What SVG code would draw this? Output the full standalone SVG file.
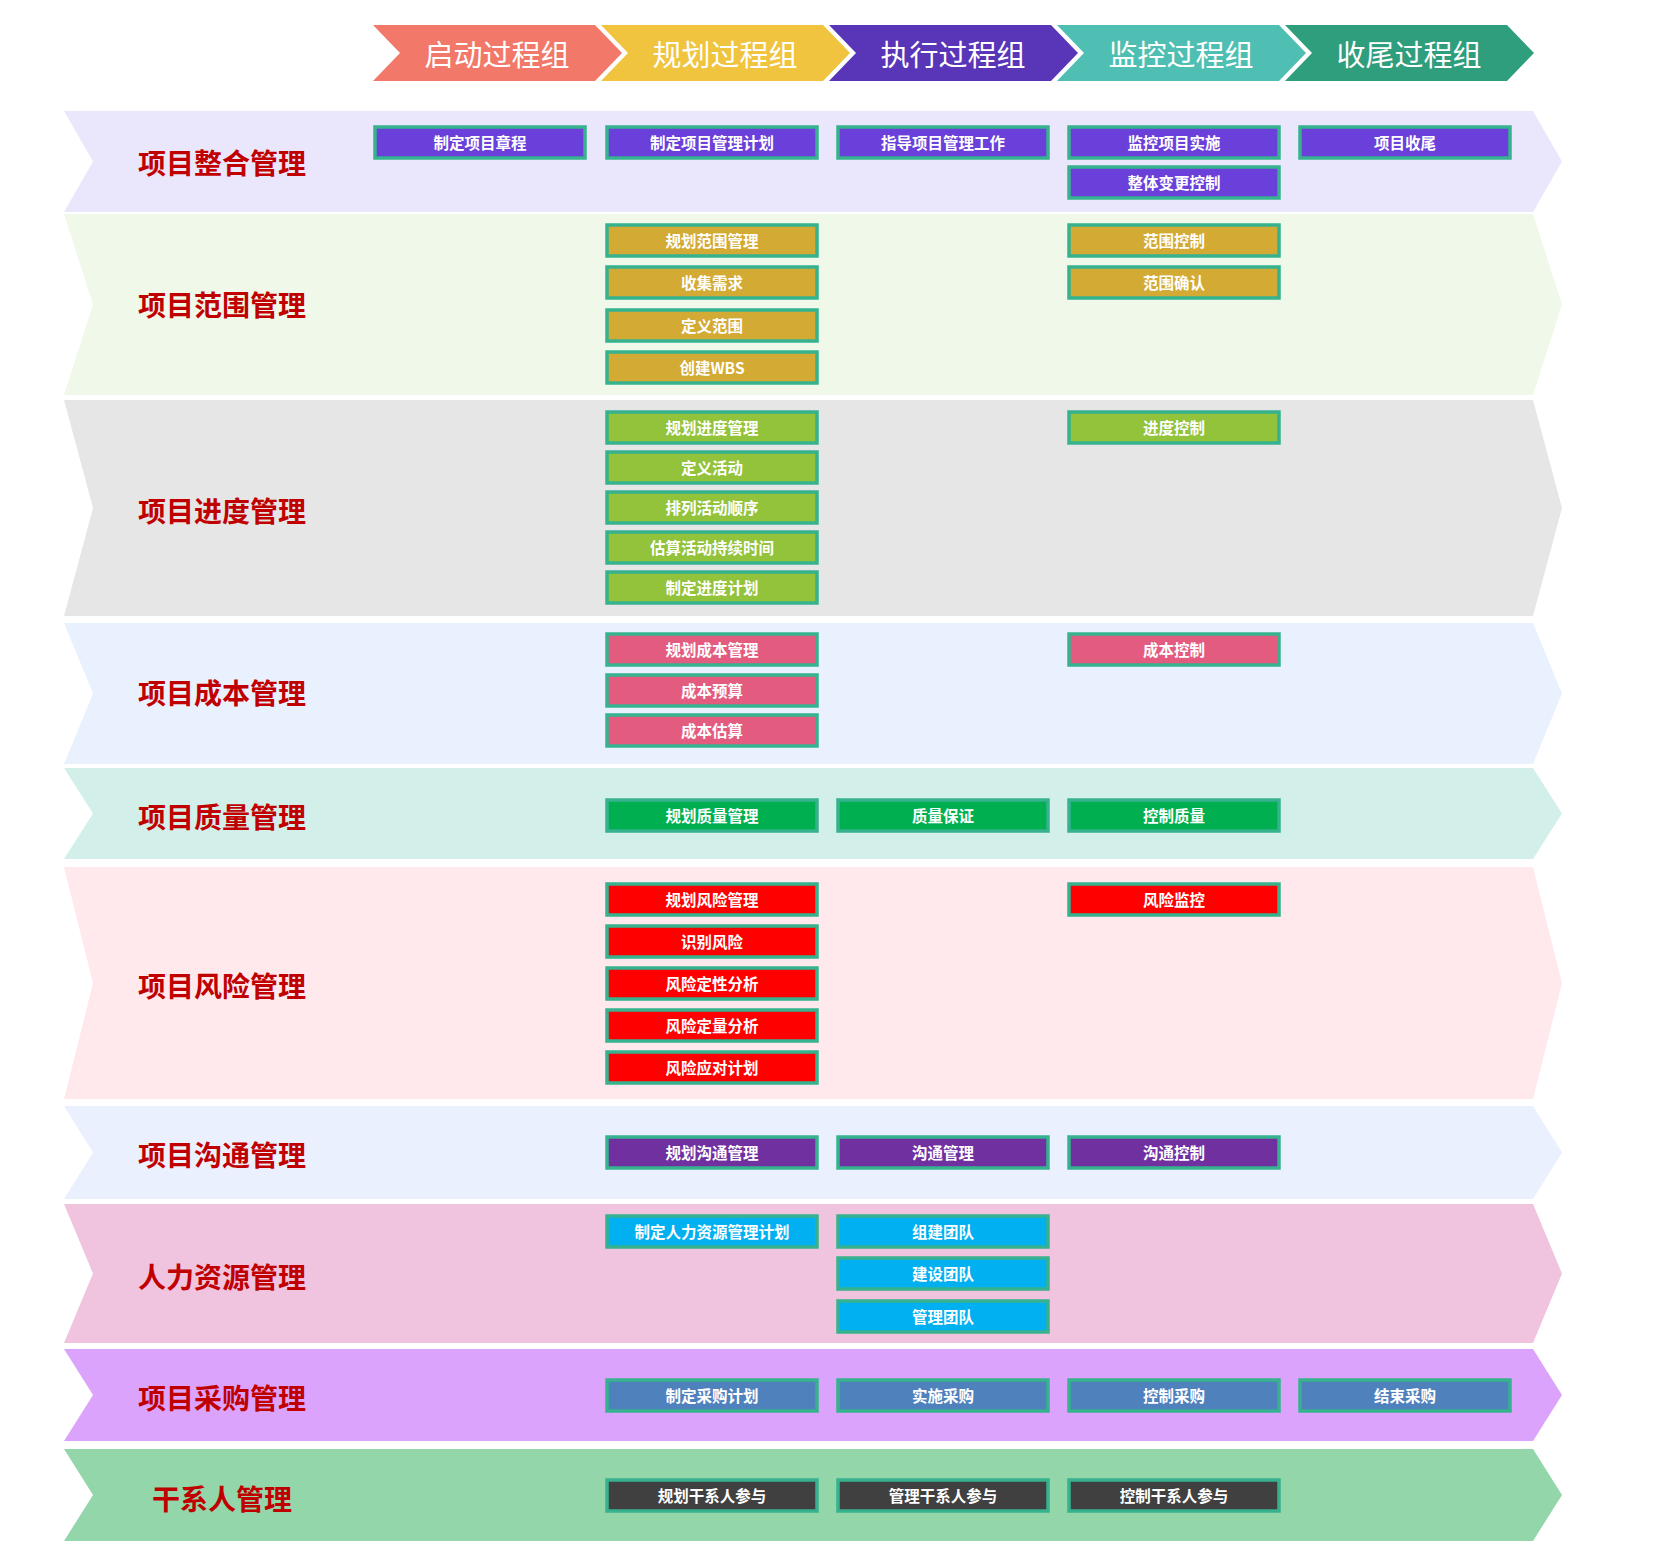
<svg xmlns="http://www.w3.org/2000/svg" width="1666" height="1550" viewBox="0 0 1666 1550">
<style>
.hdr{font-family:"Noto Sans CJK SC","Noto Sans",sans-serif;font-size:29px;fill:#fff;text-anchor:middle;dominant-baseline:central}
.lbl{font-family:"Noto Sans CJK SC","Noto Sans",sans-serif;font-size:28px;font-weight:bold;fill:#C00000;text-anchor:middle;dominant-baseline:central}
.bx{stroke:#36B28F;stroke-width:3.5}
.bt{font-family:"Noto Sans CJK SC","Noto Sans",sans-serif;font-size:15.5px;font-weight:bold;fill:#fff;text-anchor:middle;dominant-baseline:central}
.c1{fill:#6A3FDA}.c2{fill:#D3AA34}.c3{fill:#93C23B}.c4{fill:#E35C80}.c5{fill:#00B050}.c6{fill:#FF0000}.c7{fill:#7030A0}.c8{fill:#00B0F0}.c9{fill:#4F81BD}.c10{fill:#404040}
</style>
<rect width="1666" height="1550" fill="#fff"/>
<g id="header">
<g id="h1"><polygon points="373,25 595,25 622,53 595,81 373,81 400,53" fill="#F2786A"/><text class="hdr" x="497" y="53">启动过程组</text></g>
<g id="h2"><polygon points="601,25 823,25 850,53 823,81 601,81 628,53" fill="#F0C43E"/><text class="hdr" x="725" y="53">规划过程组</text></g>
<g id="h3"><polygon points="829,25 1051,25 1078,53 1051,81 829,81 856,53" fill="#5935B8"/><text class="hdr" x="953" y="53">执行过程组</text></g>
<g id="h4"><polygon points="1057,25 1279,25 1306,53 1279,81 1057,81 1084,53" fill="#4EBFB2"/><text class="hdr" x="1181" y="53">监控过程组</text></g>
<g id="h5"><polygon points="1285,25 1507,25 1534,53 1507,81 1285,81 1312,53" fill="#2E9E7C"/><text class="hdr" x="1409" y="53">收尾过程组</text></g>
</g>
<g id="bands">
<g id="band1"><polygon points="64,111 1533,111 1562,161.5 1533,212 64,212 93,161.5" fill="#EAE7FD"/><text class="lbl" x="222" y="162">项目整合管理</text></g>
<g id="band2"><polygon points="64,214 1533,214 1562,304.5 1533,395 64,395 93,304.5" fill="#EFF8E9"/><text class="lbl" x="222" y="304">项目范围管理</text></g>
<g id="band3"><polygon points="64,400 1533,400 1562,508 1533,616 64,616 93,508" fill="#E6E6E6"/><text class="lbl" x="222" y="510">项目进度管理</text></g>
<g id="band4"><polygon points="64,623 1533,623 1562,693.5 1533,764 64,764 93,693.5" fill="#E9F0FE"/><text class="lbl" x="222" y="692">项目成本管理</text></g>
<g id="band5"><polygon points="64,768 1533,768 1562,813.5 1533,859 64,859 93,813.5" fill="#D2EFE9"/><text class="lbl" x="222" y="816">项目质量管理</text></g>
<g id="band6"><polygon points="64,867 1533,867 1562,983 1533,1099 64,1099 93,983" fill="#FFE9EC"/><text class="lbl" x="222" y="985">项目风险管理</text></g>
<g id="band7"><polygon points="64,1106 1533,1106 1562,1152.5 1533,1199 64,1199 93,1152.5" fill="#EAF0FE"/><text class="lbl" x="222" y="1154">项目沟通管理</text></g>
<g id="band8"><polygon points="64,1204 1533,1204 1562,1273.5 1533,1343 64,1343 93,1273.5" fill="#F0C3DE"/><text class="lbl" x="222" y="1276">人力资源管理</text></g>
<g id="band9"><polygon points="64,1349 1533,1349 1562,1395 1533,1441 64,1441 93,1395" fill="#DBA3FB"/><text class="lbl" x="222" y="1397">项目采购管理</text></g>
<g id="band10"><polygon points="64,1449 1533,1449 1562,1495 1533,1541 64,1541 93,1495" fill="#92D6AA"/><text class="lbl" x="222" y="1498">干系人管理</text></g>
</g>
<g id="connectors"></g>
<g id="boxes">
<g id="b1a"><rect class="bx c1" x="375" y="127" width="210" height="31"/><text class="bt" x="480" y="142">制定项目章程</text></g>
<g id="b1b"><rect class="bx c1" x="607" y="127" width="210" height="31"/><text class="bt" x="712" y="142">制定项目管理计划</text></g>
<g id="b1c"><rect class="bx c1" x="838" y="127" width="210" height="31"/><text class="bt" x="943" y="142">指导项目管理工作</text></g>
<g id="b1d"><rect class="bx c1" x="1069" y="127" width="210" height="31"/><text class="bt" x="1174" y="142">监控项目实施</text></g>
<g id="b1e"><rect class="bx c1" x="1300" y="127" width="210" height="31"/><text class="bt" x="1405" y="142">项目收尾</text></g>
<g id="b1f"><rect class="bx c1" x="1069" y="167" width="210" height="31"/><text class="bt" x="1174" y="182">整体变更控制</text></g>

<g id="b2a"><rect class="bx c2" x="607" y="225" width="210" height="31"/><text class="bt" x="712" y="240">规划范围管理</text></g>
<g id="b2b"><rect class="bx c2" x="607" y="267" width="210" height="31"/><text class="bt" x="712" y="282">收集需求</text></g>
<g id="b2c"><rect class="bx c2" x="607" y="310" width="210" height="31"/><text class="bt" x="712" y="325">定义范围</text></g>
<g id="b2d"><rect class="bx c2" x="607" y="352" width="210" height="31"/><text class="bt" x="712" y="367">创建WBS</text></g>
<g id="b2e"><rect class="bx c2" x="1069" y="225" width="210" height="31"/><text class="bt" x="1174" y="240">范围控制</text></g>
<g id="b2f"><rect class="bx c2" x="1069" y="267" width="210" height="31"/><text class="bt" x="1174" y="282">范围确认</text></g>

<g id="b3a"><rect class="bx c3" x="607" y="412" width="210" height="31"/><text class="bt" x="712" y="427">规划进度管理</text></g>
<g id="b3b"><rect class="bx c3" x="607" y="452" width="210" height="31"/><text class="bt" x="712" y="467">定义活动</text></g>
<g id="b3c"><rect class="bx c3" x="607" y="492" width="210" height="31"/><text class="bt" x="712" y="507">排列活动顺序</text></g>
<g id="b3d"><rect class="bx c3" x="607" y="532" width="210" height="31"/><text class="bt" x="712" y="547">估算活动持续时间</text></g>
<g id="b3e"><rect class="bx c3" x="607" y="572" width="210" height="31"/><text class="bt" x="712" y="587">制定进度计划</text></g>
<g id="b3f"><rect class="bx c3" x="1069" y="412" width="210" height="31"/><text class="bt" x="1174" y="427">进度控制</text></g>

<g id="b4a"><rect class="bx c4" x="607" y="634" width="210" height="31"/><text class="bt" x="712" y="649">规划成本管理</text></g>
<g id="b4b"><rect class="bx c4" x="607" y="675" width="210" height="31"/><text class="bt" x="712" y="690">成本预算</text></g>
<g id="b4c"><rect class="bx c4" x="607" y="715" width="210" height="31"/><text class="bt" x="712" y="730">成本估算</text></g>
<g id="b4d"><rect class="bx c4" x="1069" y="634" width="210" height="31"/><text class="bt" x="1174" y="649">成本控制</text></g>

<g id="b5a"><rect class="bx c5" x="607" y="800" width="210" height="31"/><text class="bt" x="712" y="815">规划质量管理</text></g>
<g id="b5b"><rect class="bx c5" x="838" y="800" width="210" height="31"/><text class="bt" x="943" y="815">质量保证</text></g>
<g id="b5c"><rect class="bx c5" x="1069" y="800" width="210" height="31"/><text class="bt" x="1174" y="815">控制质量</text></g>

<g id="b6a"><rect class="bx c6" x="607" y="884" width="210" height="31"/><text class="bt" x="712" y="899">规划风险管理</text></g>
<g id="b6b"><rect class="bx c6" x="607" y="926" width="210" height="31"/><text class="bt" x="712" y="941">识别风险</text></g>
<g id="b6c"><rect class="bx c6" x="607" y="968" width="210" height="31"/><text class="bt" x="712" y="983">风险定性分析</text></g>
<g id="b6d"><rect class="bx c6" x="607" y="1010" width="210" height="31"/><text class="bt" x="712" y="1025">风险定量分析</text></g>
<g id="b6e"><rect class="bx c6" x="607" y="1052" width="210" height="31"/><text class="bt" x="712" y="1067">风险应对计划</text></g>
<g id="b6f"><rect class="bx c6" x="1069" y="884" width="210" height="31"/><text class="bt" x="1174" y="899">风险监控</text></g>

<g id="b7a"><rect class="bx c7" x="607" y="1137" width="210" height="31"/><text class="bt" x="712" y="1152">规划沟通管理</text></g>
<g id="b7b"><rect class="bx c7" x="838" y="1137" width="210" height="31"/><text class="bt" x="943" y="1152">沟通管理</text></g>
<g id="b7c"><rect class="bx c7" x="1069" y="1137" width="210" height="31"/><text class="bt" x="1174" y="1152">沟通控制</text></g>

<g id="b8a"><rect class="bx c8" x="607" y="1216" width="210" height="31"/><text class="bt" x="712" y="1231">制定人力资源管理计划</text></g>
<g id="b8b"><rect class="bx c8" x="838" y="1216" width="210" height="31"/><text class="bt" x="943" y="1231">组建团队</text></g>
<g id="b8c"><rect class="bx c8" x="838" y="1258" width="210" height="31"/><text class="bt" x="943" y="1273">建设团队</text></g>
<g id="b8d"><rect class="bx c8" x="838" y="1301" width="210" height="31"/><text class="bt" x="943" y="1316">管理团队</text></g>

<g id="b9a"><rect class="bx c9" x="607" y="1380" width="210" height="31"/><text class="bt" x="712" y="1395">制定采购计划</text></g>
<g id="b9b"><rect class="bx c9" x="838" y="1380" width="210" height="31"/><text class="bt" x="943" y="1395">实施采购</text></g>
<g id="b9c"><rect class="bx c9" x="1069" y="1380" width="210" height="31"/><text class="bt" x="1174" y="1395">控制采购</text></g>
<g id="b9d"><rect class="bx c9" x="1300" y="1380" width="210" height="31"/><text class="bt" x="1405" y="1395">结束采购</text></g>

<g id="b10a"><rect class="bx c10" x="607" y="1480" width="210" height="31"/><text class="bt" x="712" y="1495">规划干系人参与</text></g>
<g id="b10b"><rect class="bx c10" x="838" y="1480" width="210" height="31"/><text class="bt" x="943" y="1495">管理干系人参与</text></g>
<g id="b10c"><rect class="bx c10" x="1069" y="1480" width="210" height="31"/><text class="bt" x="1174" y="1495">控制干系人参与</text></g>
</g>
</svg>
